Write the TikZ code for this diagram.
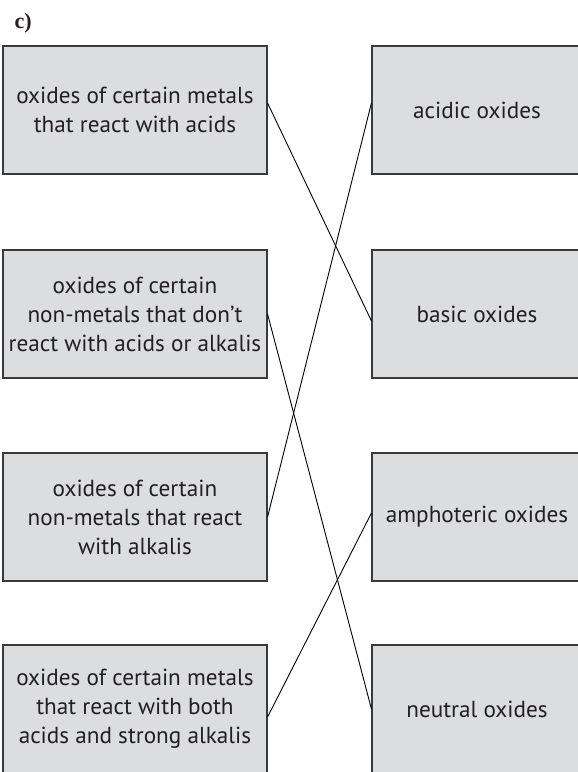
\documentclass[tikz,border=0pt]{standalone}
\usepackage{fontspec}
\setmainfont{PT Sans}
\newfontfamily\labelfont{Liberation Serif}
\definecolor{boxfill}{HTML}{DCDDDF}
\definecolor{boxline}{HTML}{3A3A3A}
\definecolor{txt}{HTML}{231F20}
\tikzset{
  oxbox/.style={draw=boxline, fill=boxfill, line width=1.1pt, rectangle,
    inner sep=0pt, align=center, text=txt,
    font=\fontsize{23.2}{29}\selectfont},
  leftbox/.style={oxbox, minimum width=264pt, minimum height=128pt},
  rightbox/.style={oxbox, minimum width=210pt, minimum height=128pt},
  link/.style={line width=0.9pt, draw=black}
}
\begin{document}
\begin{tikzpicture}[x=1pt,y=1pt]
\useasboundingbox (0,0) rectangle (578,-772);
\node[anchor=base west, font=\labelfont\bfseries\fontsize{22}{24}\selectfont, text=txt] (lab) at (11,-28) {c)};
% left column
\node[leftbox] (l1) at (135,-110) {oxides of certain metals\\that react with acids};
\node[leftbox] (l2) at (135,-314) {oxides of certain\\non-metals that don’t\\react with acids or alkalis};
\node[leftbox] (l3) at (135,-517) {oxides of certain\\non-metals that react\\with alkalis};
\node[leftbox] (l4) at (135,-709) {oxides of certain metals\\that react with both\\acids and strong alkalis};
% right column
\node[rightbox] (r1) at (477,-110) {acidic oxides};
\node[rightbox] (r2) at (477,-314) {basic oxides};
\node[rightbox] (r3) at (477,-517) {amphoteric oxides};
\node[rightbox] (r4) at (477,-709) {neutral oxides};
% connectors
\draw[link] ([yshift=7pt]l1.east) -- ([yshift=-7pt]r2.west);
\draw[link] (l2.east) -- (r4.west);
\draw[link] (l3.east) -- ([yshift=7pt]r1.west);
\draw[link] ([yshift=-8pt]l4.east) -- ([yshift=4pt]r3.west);
\end{tikzpicture}
\end{document}
